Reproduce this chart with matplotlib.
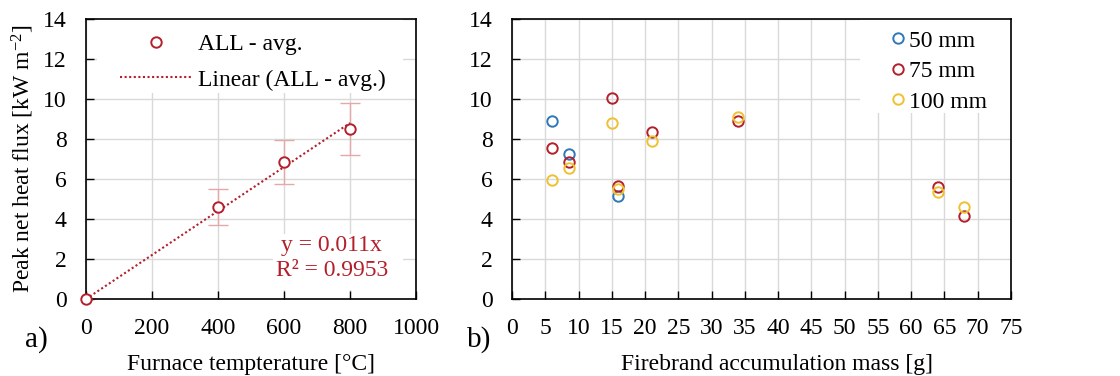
import matplotlib
matplotlib.use("Agg")
import matplotlib.pyplot as plt
from matplotlib.patches import Rectangle
import numpy as np

plt.rcParams['font.family'] = ['Liberation Serif', 'DejaVu Serif']
plt.rcParams['mathtext.fontset'] = 'custom'
plt.rcParams['mathtext.rm'] = 'Liberation Serif'
plt.rcParams['mathtext.it'] = 'Liberation Serif:italic'

# ---- panel a data ----
temp = [0, 400, 600, 800]
flux_avg = [0.0, 4.6, 6.85, 8.5]
flux_lo = [0.0, 3.7, 5.75, 7.2]
flux_hi = [0.0, 5.5, 7.95, 9.8]
slope = 0.011
eq_text = "y = 0.011x"
r2_text = "R² = 0.9953"

# ---- panel b data ----
mass_50 = [6, 8.5, 16]
flux_50 = [8.92, 7.25, 5.15]
mass_75 = [6, 8.5, 15, 16, 21, 34, 64, 68]
flux_75 = [7.55, 6.83, 10.07, 5.65, 8.33, 8.9, 5.58, 4.15]
mass_100 = [6, 8.5, 15, 16, 21, 34, 64, 68]
flux_100 = [5.95, 6.57, 8.78, 5.48, 7.88, 9.08, 5.35, 4.62]

BLUE = '#2e78b8'
RED = '#b31f2b'
YELLOW = '#f0c030'
ERR = '#e4a7aa'
GRID = '#d9d9d9'
FS = 17

fig = plt.figure(figsize=(11.2, 3.76), dpi=100)
ax1 = fig.add_axes([86/1120, 77/376, 330/1120, 280/376])
ax2 = fig.add_axes([512/1120, 77/376, 499/1120, 280/376])

for ax in (ax1, ax2):
    ax.grid(True, color=GRID, lw=1.0)
    ax.set_axisbelow(True)
    ax.tick_params(direction='in', length=6, width=1, labelsize=FS, top=False, right=False)
    ax.tick_params(axis='y', pad=14)
    ax.tick_params(axis='x', pad=14)
    for s in ax.spines.values():
        s.set_linewidth(1.2)
        s.set_color('black')
    ax.set_ylim(0, 14)
    ax.set_yticks(np.arange(0, 15, 2))

# panel a
ax1.set_xlim(0, 1000)
ax1.set_xticks(np.arange(0, 1001, 200))
a = np.array(flux_avg)
yerr = [a - np.array(flux_lo), np.array(flux_hi) - a]
ax1.errorbar(temp, flux_avg, yerr=yerr, fmt='none', ecolor=ERR, elinewidth=1.0,
             capsize=7, capthick=1.0, zorder=2)
xl = np.array([0, max(temp)])
line, = ax1.plot(xl, slope * xl, ls=(0, (1, 1.2)), color=RED, lw=1.5, zorder=3)
pts, = ax1.plot(temp, flux_avg, 'o', mfc='white', mec=RED, mew=1.4, ms=7.5, zorder=4,
                clip_on=False)
# white areas behind legend / equation (hide grid)
ax1.add_patch(Rectangle((0.033, 0.736), 0.927, 0.264, transform=ax1.transAxes,
                        facecolor='white', edgecolor='none', zorder=0.8))
ax1.add_patch(Rectangle((0.567, 0.032), 0.393, 0.2, transform=ax1.transAxes,
                        facecolor='white', edgecolor='none', zorder=0.8))
ax1.legend([pts, line], ['ALL - avg.', 'Linear (ALL - avg.)'], loc='upper left',
           bbox_to_anchor=(0.082, 0.972), borderaxespad=0, fontsize=FS, frameon=False,
           handlelength=3.05, handletextpad=0.25, labelspacing=0.58, borderpad=0.3)
ax1.text(745, 2.7, eq_text, color=RED, fontsize=FS, ha='center', va='center')
ax1.text(745, 1.45, r2_text, color=RED, fontsize=FS, ha='center', va='center')
ax1.set_ylabel('Peak net heat flux [kW m$^{-2}$]', fontsize=FS)
ax1.yaxis.set_label_coords(-0.15, 0.5)
ax1.set_xlabel('Furnace tempterature [°C]', fontsize=FS)
ax1.xaxis.set_label_coords(0.5, -0.195)

# panel b
ax2.set_xlim(0, 75)
ax2.set_xticks(np.arange(0, 76, 5))
kw = dict(ls='none', marker='o', mfc='none', mew=1.4, ms=7.5)
h50, = ax2.plot(mass_50, flux_50, mec=BLUE, **kw)
h75, = ax2.plot(mass_75, flux_75, mec=RED, **kw)
h100, = ax2.plot(mass_100, flux_100, mec=YELLOW, **kw)
ax2.add_patch(Rectangle((0.697, 0.664), 0.303, 0.336, transform=ax2.transAxes,
                        facecolor='white', edgecolor='none', zorder=0.8))
ax2.legend([h50, h75, h100], ['50 mm', '75 mm', '100 mm'], loc='upper left',
           bbox_to_anchor=(0.745, 0.986), borderaxespad=0, fontsize=FS, frameon=False,
           handlelength=0.6, handletextpad=0.15, labelspacing=0.38, borderpad=0.3)
ax2.set_xlabel('Firebrand accumulation mass [g]', fontsize=FS)
ax2.xaxis.set_label_coords(0.531, -0.195)

fig.text(25/1120, 1 - 340/376, 'a)', fontsize=21, va='center', ha='left')
fig.text(467/1120, 1 - 340/376, 'b)', fontsize=21, va='center', ha='left')

fig.savefig('out.png', dpi=100)
